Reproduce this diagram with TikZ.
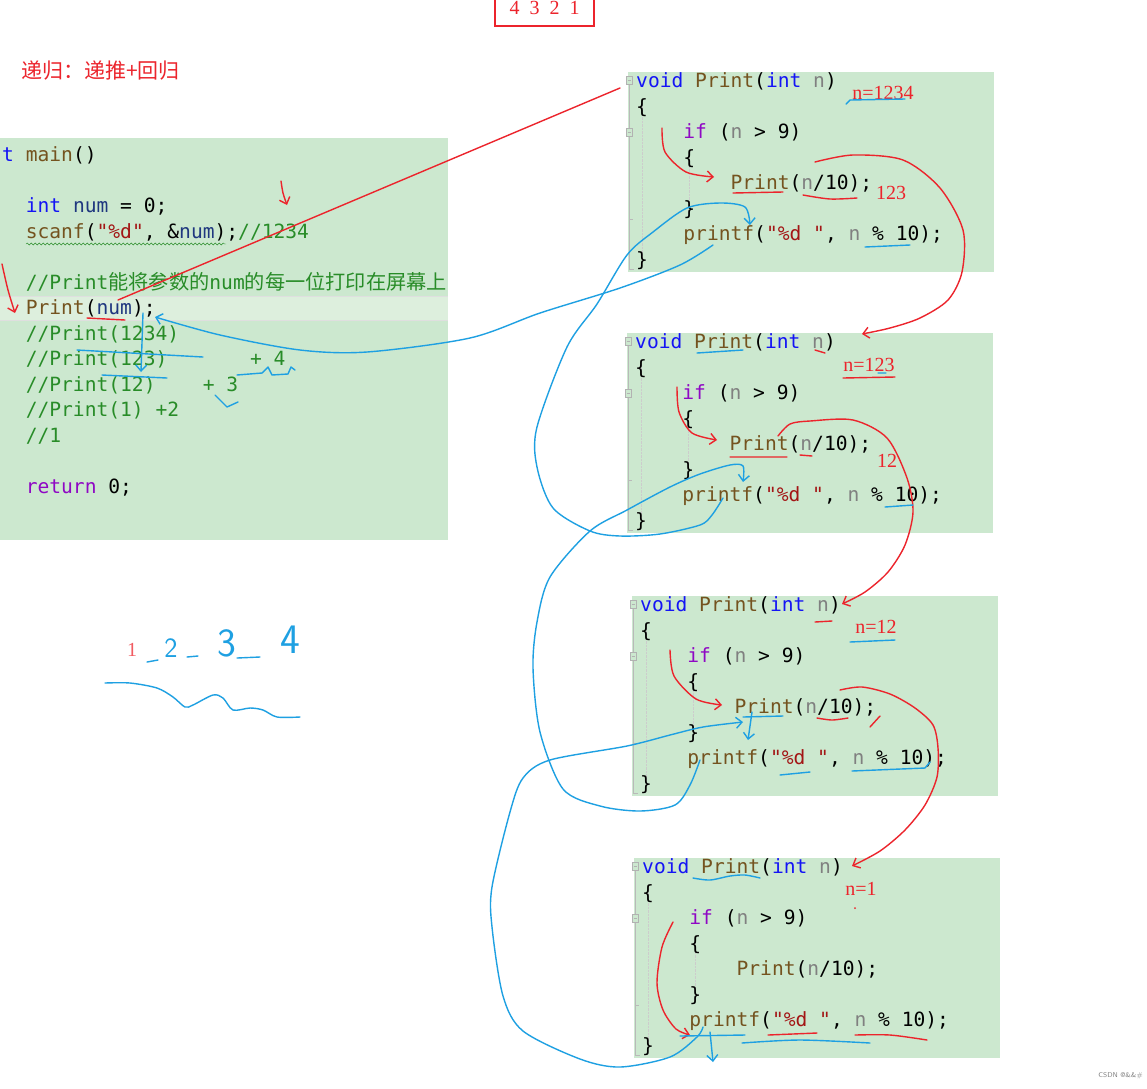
\documentclass[tikz,border=0pt]{standalone}
\usepackage{fontspec}
\setmonofont{DejaVu Sans Mono}
\newfontfamily\cjk{Noto Sans CJK SC}
\newfontfamily\tangan{Liberation Serif}
\usepackage{xcolor}
\usepackage{tikz}
\usetikzlibrary{arrows.meta, decorations.pathmorphing}

\definecolor{latar}{RGB}{204,232,207}
\definecolor{sorot}{RGB}{221,239,221}
\definecolor{merah}{RGB}{236,36,44}
\definecolor{biru}{RGB}{30,160,226}
\definecolor{kunci}{RGB}{20,20,245}
\definecolor{fungsi}{RGB}{116,83,31}
\definecolor{ungu}{RGB}{143,8,196}
\definecolor{teks}{RGB}{163,21,21}
\definecolor{komen}{RGB}{40,140,40}
\definecolor{abu}{RGB}{128,128,128}
\definecolor{var}{RGB}{31,55,127}

\begin{document}
\begin{tikzpicture}[x=1pt, y=-1pt,
    kode/.style={anchor=base west, inner sep=0pt, font=\ttfamily\fontsize{19.6}{24}\selectfont},
    catatan/.style={text=merah, inner sep=0pt, font=\tangan\fontsize{20}{24}\selectfont},
    panahmerah/.style={merah, line width=1.4pt, line cap=round, -{Straight Barb[length=6pt,width=11pt]}},
    panahbiru/.style={biru, line width=1.4pt, line cap=round, -{Straight Barb[length=6pt,width=11pt]}},
    coretmerah/.style={merah, line width=1.4pt, line cap=round, line join=round},
    coretbiru/.style={biru, line width=1.4pt, line cap=round, line join=round}
  ]
    \useasboundingbox (0,0) rectangle (1147,1088);
    \fill[white] (0,0) rectangle (1147,1088);

    % main()
    \fill[latar] (0,138) rectangle (448,540);
    \fill[sorot] (0,296) rectangle (448,320);
    \draw[gray!25] (0,296) -- (448,296) (0,320) -- (448,320);
    \node[kode] (utama) at (2,161.5) {\textcolor{kunci}{t} \textcolor{fungsi}{main}()};
    \node[kode] (deklar) at (25.6,212.5) {\textcolor{kunci}{int} \textcolor{var}{num} = 0;};
    \node[kode] (baca) at (25.6,238) {\textcolor{fungsi}{scanf}(\textcolor{teks}{"\%d"}, \&\textcolor{var}{num});\textcolor{komen}{//1234}};
    \draw[komen, decorate, decoration={snake, amplitude=1pt, segment length=4pt}] (26,244) -- (226,244);
    \node[kode, text=komen] (komen1) at (25.6,289) {//Print{\cjk\fontsize{20.2}{24}\selectfont 能将参数的}num{\cjk\fontsize{20.2}{24}\selectfont 的每一位打印在屏幕上}};
    \node[kode] (panggil) at (25.6,314.5) {\textcolor{fungsi}{Print}(\textcolor{var}{num});};
    \node[kode, text=komen] (komen2) at (25.6,340) {//Print(1234)};
    \node[kode, text=komen] (komen3) at (25.6,365.5) {//Print(123)~~~~~~~+~4};
    \node[kode, text=komen] (komen4) at (25.6,391) {//Print(12)~~~~+~3};
    \node[kode, text=komen] (komen5) at (25.6,416.5) {//Print(1) +2};
    \node[kode, text=komen] (komen6) at (25.6,442) {//1};
    \node[kode] (kembali) at (25.6,493) {\textcolor{ungu}{return} 0;};

    % empat kali Print(n)
    \foreach \nm/\bx/\by in {p1/628/72, p2/627/333, p3/632/596, p4/634/858} {
      \begin{scope}[shift={(\bx,\by)}]
        \fill[latar] (0,0) rectangle (366,200);
        \draw[gray!55] (1,11) -- (1,197) -- (6,197) (1,147) -- (5,147);
        \draw[gray!60, fill=latar] (-2,4) rectangle (4,12) (-2,56) rectangle (4,64);
        \draw[gray!60] (-0.5,8) -- (2.5,8) (-0.5,60) -- (2.5,60);
        \draw[gray!40, densely dotted] (14,32) -- (14,190) (61,84) -- (61,134);
        \node[kode] (\nm-void) at (8,15.5) {\textcolor{kunci}{void} \textcolor{fungsi}{Print}(\textcolor{kunci}{int} \textcolor{abu}{n})};
        \node[kode] (\nm-buka) at (8,41) {\{};
        \node[kode] (\nm-if) at (55.2,66.5) {\textcolor{ungu}{if} (\textcolor{abu}{n} > 9)};
        \node[kode] (\nm-buka2) at (55.2,92) {\{};
        \node[kode] (\nm-print) at (102.4,117.5) {\textcolor{fungsi}{Print}(\textcolor{abu}{n}/10);};
        \node[kode] (\nm-tutup2) at (55.2,143) {\}};
        \node[kode] (\nm-printf) at (55.2,168.5) {\textcolor{fungsi}{printf}(\textcolor{teks}{"\%d "}, \textcolor{abu}{n} \% 10);};
        \node[kode] (\nm-tutup) at (8,194) {\}};
      \end{scope}
    }

    % tulisan tangan
    \node[text=merah, inner sep=0pt, anchor=west, font=\cjk\fontsize{21}{24}\selectfont] (judul) at (21,71) {递归：递推+回归};
    \node[draw=merah, line width=1.6pt, text=merah, font=\tangan\fontsize{20}{22}\selectfont,
          minimum width=99, minimum height=36, anchor=south] (hasil) at (544.5,27) {4~~3~~2~~1};
    \node[catatan] (n1234) at (883,93) {n=1234};
    \node[catatan] (hasil123) at (891,193) {123};
    \node[catatan] (n123) at (869,365) {n=123};
    \node[catatan] (hasil12) at (887,461) {12};
    \node[catatan] (n12) at (876,627) {n=12};
    \node[catatan] (n1) at (861,889) {n=1};
    \node[catatan, text=merah!75] (satu) at (132,650) {1};
    \node[text=biru, inner sep=0pt, font=\sffamily\fontsize{28}{30}\selectfont] (dua) at (171,648) {2};
    \node[text=biru, inner sep=0pt, font=\sffamily\fontsize{40}{42}\selectfont] (tiga) at (227,643) {3};
    \node[text=biru, inner sep=0pt, font=\sffamily\fontsize{42}{44}\selectfont] (empat) at (290,640) {4};
    \draw[coretbiru] (147,662) -- (158,660) (187,657) -- (198,656) (237,658) -- (260,657);
    \draw[coretbiru] plot[smooth] coordinates {(105,683) (130,683) (157,688) (173,697) (185,707) (193,705)
        (213,695) (223,698) (233,710) (250,708) (263,710) (277,717) (300,717)};

    % jalur merah (pemanggilan)
    \draw[coretmerah] (118,300) -- (620,88);
    \draw[panahmerah] plot[smooth] coordinates {(2,264) (8,290) (15,313)};
    \draw[panahmerah] plot[smooth] coordinates {(281,181) (283,193) (287,205)};
    \draw[coretmerah] (87,318) -- (125,320);
    \draw[panahmerah] plot[smooth] coordinates {(662,128) (665,152) (686,172) (714,177)};
    \draw[panahmerah] plot[smooth] coordinates {(815,162) (853,155) (903,160) (940,188) (963,230)
        (962,272) (948,300) (920,318) (890,328) (862,334)};
    \draw[coretmerah] (733,193) -- (783,192);
    \draw[coretmerah] plot[smooth] coordinates {(803,195) (830,199) (857,198)};
    \draw[panahmerah] plot[smooth] coordinates {(677,387) (679,412) (692,433) (717,440)};
    \draw[panahmerah] plot[smooth] coordinates {(778,436) (790,424) (810,421) (853,420) (887,438)
        (907,478) (913,512) (905,545) (888,572) (865,592) (842,604)};
    \draw[coretmerah] (730,457) -- (787,457) (800,455) -- (812,456) (815,350) -- (825,353) (843,378) -- (895,377);
    \draw[panahmerah] plot[smooth] coordinates {(670,650) (674,676) (696,699) (722,705)};
    \draw[panahmerah] plot[smooth] coordinates {(840,690) (862,687) (890,694) (915,708) (933,725)
        (938,748) (937,777) (925,805) (905,830) (880,851) (852,866)};
    \draw[coretmerah] (815,622) -- (832,621) (870,727) -- (880,716);
    \draw[coretmerah] plot[smooth] coordinates {(817,718) (832,720) (848,718)};
    \draw[panahmerah] plot[smooth] coordinates {(673,922) (662,947) (657,983) (663,1010) (676,1029) (690,1035)};
    \draw[coretmerah] (768,1035) -- (817,1033);
    \draw[coretmerah] plot[smooth] coordinates {(855,1035) (890,1035) (927,1040)};
    \fill[merah] (855,908) circle (1);

    % jalur biru (kembali)
    \draw[panahbiru] plot[smooth] coordinates {(713,245) (680,265) (620,288) (540,313) (470,338)
        (367,352) (300,350) (220,335) (155,317)};
    \draw[panahbiru] plot[smooth] coordinates {(723,498) (712,515) (700,525) (660,534) (620,536)
        (590,531) (553,508) (537,467) (537,427) (567,347) (597,304) (627,255) (653,232) (687,208)
        (720,203) (745,207) (750,225)};
    \draw[panahbiru] plot[smooth] coordinates {(700,760) (690,785) (675,805) (640,811) (600,806)
        (563,789) (540,732) (533,668) (537,622) (550,577) (590,531) (627,510) (670,487) (700,474)
        (730,465) (743,466) (743,482)};
    \draw[panahbiru] plot[smooth] coordinates {(703,1027) (697,1037) (670,1057) (620,1067) (580,1059)
        (523,1031) (503,996) (492,927) (492,887) (510,812) (523,778) (550,760) (627,746) (670,735)
        (703,727) (743,722)};
    \draw[coretbiru] (77,350) -- (203,357) (102,375) -- (167,378);
    \draw[panahbiru] (143,313) -- (141,372);
    \draw[coretbiru] (237,375) -- (262,373) -- (268,367) -- (272,375) -- (288,374) -- (291,367) -- (295,370);
    \draw[coretbiru] (215,395) -- (227,407) -- (238,402);
    \draw[coretbiru] (846,104) -- (850,100) -- (905,99) (865,247) -- (910,245);
    \draw[coretbiru] (697,353) -- (743,350) (878,373) -- (886,373) (885,507) -- (913,505);
    \draw[coretbiru] (850,642) -- (895,640) (780,775) -- (810,772) (852,771) -- (925,768) -- (930,762);
    \draw[coretbiru] (743,717) -- (783,716);
    \draw[panahbiru] (752,712) -- (748,740);
    \draw[coretbiru] plot[smooth] coordinates {(693,878) (710,880) (730,876) (745,875) (760,878)};
    \draw[coretbiru] (680,1036) -- (745,1035);
    \draw[coretbiru] plot[smooth] coordinates {(742,1043) (800,1040) (870,1043)};
    \draw[panahbiru] (710,1032) -- (713,1062);

    \node[text=gray, inner sep=0pt, anchor=east, font=\sffamily\fontsize{7}{8}\selectfont] (tanda) at (1143,1076) {CSDN @\&\&\#};
\end{tikzpicture}
\end{document}
